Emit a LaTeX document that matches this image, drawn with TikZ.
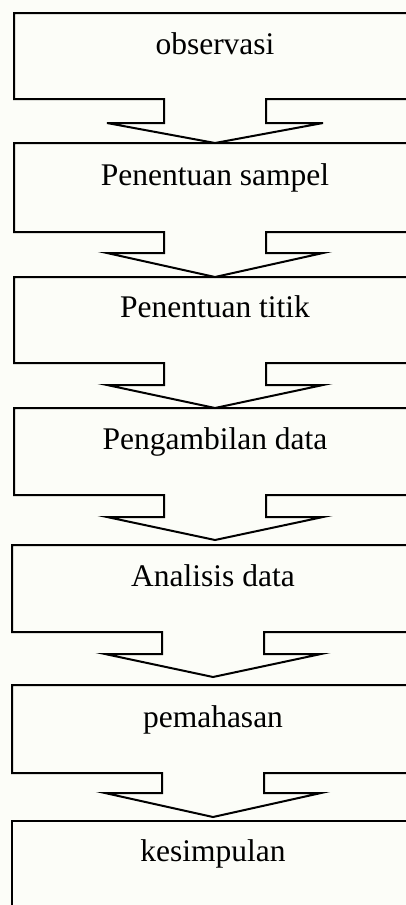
\documentclass[tikz,border=0pt]{standalone}
\usepackage{fontspec}
\setmainfont{Liberation Serif}
\definecolor{paper}{RGB}{252,253,248}
% Outline of one stage: box with a block arrow leaving its bottom edge.
% #1 left, #2 top, #3 bottom, #4 stem end, #5 arrow tip, #6 centre x
\newcommand\stageoutline[6]{%
  \draw[stage] (#1,#2) -- (420,#2) -- (420,#3) -- ({#6+51},#3) -- ({#6+51},#4)
    -- ({#6+108},#4) -- (#6,#5) -- ({#6-108},#4) -- ({#6-51},#4)
    -- ({#6-51},#3) -- (#1,#3) -- cycle;}
\begin{document}
\begin{tikzpicture}[x=1pt,y=-1pt,
  stage/.style={draw=black, line width=2pt, line join=miter},
  steptext/.style={font=\fontsize{31.5}{38}\selectfont, anchor=base, inner sep=0pt}]
  \fill[paper] (0,0) rectangle (406,905);
  \useasboundingbox (0,0) rectangle (406,905);
  \clip (0,0) rectangle (406,905);

  \stageoutline{14}{13}{99}{123}{143}{215}
  \stageoutline{14}{143}{232}{253}{277}{215}
  \stageoutline{14}{277}{363}{385}{408}{215}
  \stageoutline{14}{408}{495}{517}{540}{215}
  \stageoutline{12}{545}{632}{654}{677}{213}
  \stageoutline{12}{685}{773}{793}{817}{213}
  \draw[stage] (12,930) -- (12,821) -- (420,821);

  \node[steptext] (s1) at (215,54)  {observasi};
  \node[steptext] (s2) at (215,185) {Penentuan sampel};
  \node[steptext] (s3) at (215,317) {Penentuan titik};
  \node[steptext] (s4) at (215,449) {Pengambilan data};
  \node[steptext] (s5) at (213,586) {Analisis data};
  \node[steptext] (s6) at (213,727) {pemahasan};
  \node[steptext] (s7) at (213,861) {kesimpulan};
\end{tikzpicture}
\end{document}
